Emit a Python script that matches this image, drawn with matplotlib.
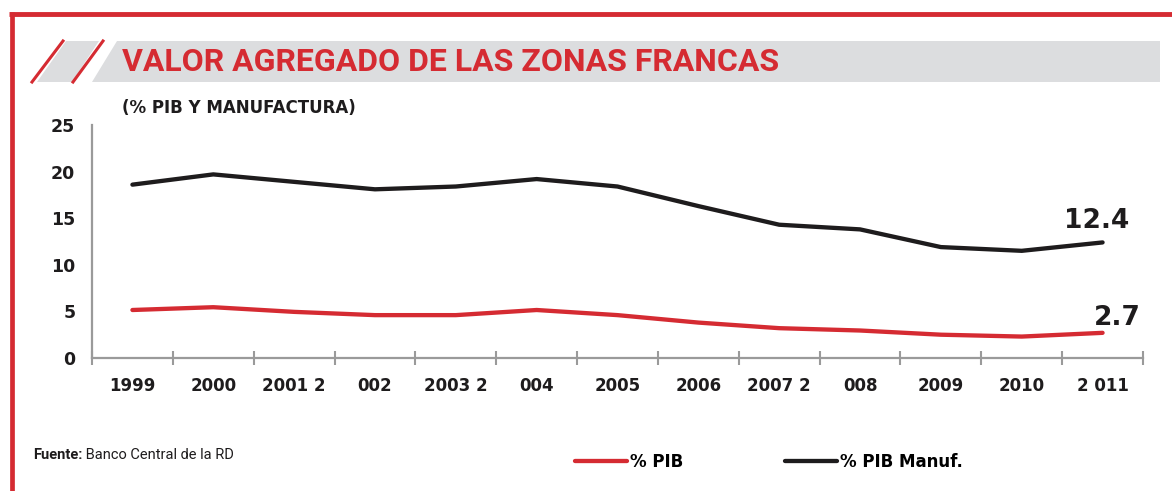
import matplotlib
matplotlib.use("Agg")
import matplotlib.pyplot as plt
from matplotlib import font_manager
from matplotlib.patches import Polygon
import numpy as np

# data
years = ["1999", "2000", "2001 2", "002", "2003 2", "004", "2005",
         "2006", "2007 2", "008", "2009", "2010", "2 011"]
pct_pib = [5.15, 5.45, 4.95, 4.6, 4.6, 5.15, 4.6, 3.8, 3.2, 2.95, 2.5, 2.3, 2.7]
pct_manuf = [18.6, 19.7, 18.9, 18.1, 18.4, 19.2, 18.4, 16.3, 14.3, 13.8, 11.9, 11.5, 12.4]
yticks = [0, 5, 10, 15, 20, 25]

RED = "#d52b32"
BLACK = "#1e1c1d"
GRID = "#9a9a9a"
BANNER = "#dcdddf"


def pick_font(*names):
    have = {f.name for f in font_manager.fontManager.ttflist}
    for n in names:
        if n in have:
            return n
    return "DejaVu Sans"


NARROW = pick_font("Liberation Sans Narrow", "Roboto", "Open Sans")

W, H, DPI = 1172, 491, 100
fig = plt.figure(figsize=(W / DPI, H / DPI), dpi=DPI)

# decoration layer in pixel coordinates
bg = fig.add_axes([0, 0, 1, 1], zorder=0)
bg.set_xlim(0, W)
bg.set_ylim(H, 0)
bg.axis("off")
bg.plot([9, W], [14, 14], color=RED, lw=3.5, solid_capstyle="butt")
bg.plot([11.7, 11.7], [12, H], color=RED, lw=3.4, solid_capstyle="butt")
bg.add_patch(Polygon([(37, 82), (72, 82), (99, 41), (66, 41)], closed=True,
                     facecolor=BANNER, edgecolor="none"))
bg.add_patch(Polygon([(92, 82), (1160, 82), (1160, 41), (117, 41)], closed=True,
                     facecolor=BANNER, edgecolor="none"))
bg.plot([32, 63], [82, 41], color=RED, lw=2.2)
bg.plot([73, 103], [82, 41], color=RED, lw=2.2)
bg.text(122, 62, "VALOR AGREGADO DE LAS ZONAS FRANCAS", color=RED,
        fontsize=23, fontweight="bold", family=NARROW, va="center", ha="left")
bg.text(122, 108, "(% PIB Y MANUFACTURA)", color=BLACK, fontsize=12,
        fontweight="bold", va="center", ha="left")
src = bg.text(33, 455, "Fuente:", color=BLACK, fontsize=10.5, fontweight="bold",
              family=NARROW, va="center", ha="left")
bg.annotate(" Banco Central de la RD", xy=(1, 0.5), xycoords=src, color=BLACK,
            fontsize=10.5, family=NARROW, va="center", ha="left")

# main chart
ax = fig.add_axes([92 / W, 1 - 358 / H, (1143 - 92) / W, (358 - 125) / H], zorder=1)
ax.patch.set_alpha(0)
x = np.arange(len(years)) + 0.5
l1, = ax.plot(x, pct_pib, color=RED, lw=3.1, solid_capstyle="round", label="% PIB")
l2, = ax.plot(x, pct_manuf, color=BLACK, lw=3.1, solid_capstyle="round",
              label="% PIB Manuf.")

ax.annotate(f"{pct_manuf[-1]:.1f}", (x[-1], pct_manuf[-1]), xytext=(-6, 21),
            textcoords="offset pixels", ha="center", va="center",
            fontsize=19, fontweight="bold", family="DejaVu Sans", color=BLACK)
ax.annotate(f"{pct_pib[-1]:.1f}", (x[-1], pct_pib[-1]), xytext=(15, 15),
            textcoords="offset pixels", ha="center", va="center",
            fontsize=19, fontweight="bold", family="DejaVu Sans", color=BLACK)

ax.set_xlim(0, len(years))
ax.set_ylim(0, 25)
ax.set_yticks(yticks)
ax.set_yticklabels([str(v) for v in yticks], fontsize=12.5, fontweight="bold",
                   color=BLACK)
ax.tick_params(axis="y", length=0, pad=12)
ax.set_xticks(np.arange(len(years) + 1))
ax.set_xticklabels([])
ax.set_xticks(x, minor=True)
ax.set_xticklabels(years, minor=True, fontsize=12, fontweight="bold", color=BLACK)
ax.tick_params(axis="x", which="major", direction="inout", length=10,
               width=1.5, color=GRID)
ax.tick_params(axis="x", which="minor", length=0, pad=14)
for s in ("top", "right"):
    ax.spines[s].set_visible(False)
for s in ("left", "bottom"):
    ax.spines[s].set_color(GRID)
    ax.spines[s].set_linewidth(1.6)

fig.legend(handles=[l1, l2], loc="center left",
           bbox_to_anchor=(575 / W, 1 - 462 / H), ncol=2, frameon=False,
           handlelength=3.1, handletextpad=0.2, columnspacing=6.1,
           borderpad=0, borderaxespad=0,
           prop={"size": 12, "weight": "bold"})

fig.savefig("out.png", dpi=DPI)
